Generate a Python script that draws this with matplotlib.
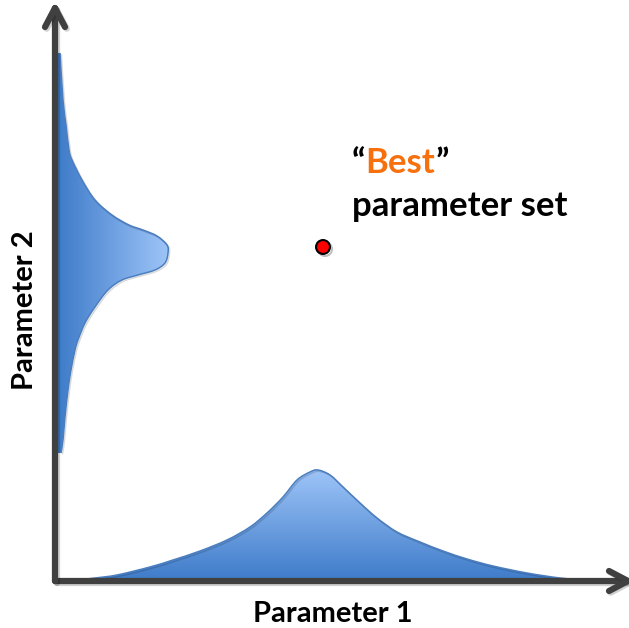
import matplotlib
matplotlib.use("Agg")
import matplotlib.pyplot as plt
import matplotlib.patheffects as pe
import numpy as np
from matplotlib.colors import LinearSegmentedColormap
from matplotlib.patches import PathPatch
from matplotlib.path import Path

# -- data
# distribution of parameter 1 (bottom)
p1_vals = [14, 40, 62, 95, 118, 145, 172, 195, 212, 228, 242, 255, 263, 275, 288,
           305, 322, 342, 365, 388, 412, 438, 472, 505, 537]
p1_dens = [0, 3, 6, 14, 21, 30, 41, 54, 68, 84, 101, 109, 111, 106, 94,
           78, 63, 49, 39, 30, 22, 15, 8, 3, 0]
# distribution of parameter 2 (left)
p2_vals = [528, 481, 456, 431, 421, 401, 381, 366, 356, 351, 345, 336, 328, 318,
           311, 306, 301, 291, 274, 258, 241, 231, 211, 191, 164, 141, 128]
p2_dens = [3, 6, 9, 12, 15, 25, 38, 55, 72, 86, 100, 110, 111, 108,
           98, 81, 65, 51, 38, 28, 21, 18, 14, 11, 8, 6, 4]
# best parameter set
best_p1 = 268
best_p2 = 334

p1_axis_max = 573
p2_axis_max = 573
p2_base = 2

axis_col = '#404040'
dark_blue = '#3E7BC9'
light_blue = '#9DC4F8'
edge_col = '#4A7EBF'
cmap = LinearSegmentedColormap.from_list('blues', [dark_blue, light_blue])

plt.rcParams['font.family'] = ['Lato', 'DejaVu Sans']


def smooth_path(pts, close_to=None):
    # draws a smooth (bezier) curve through the given points
    pts = np.asarray(pts, float)
    n = len(pts)
    verts = [pts[0]]
    codes = [Path.MOVETO]
    for i in range(n - 1):
        p0 = pts[max(i - 1, 0)]
        p1 = pts[i]
        p2 = pts[i + 1]
        p3 = pts[min(i + 2, n - 1)]
        verts += [p1 + (p2 - p0) / 6, p2 - (p3 - p1) / 6, p2]
        codes += [Path.CURVE4] * 3
    if close_to is not None:
        for v in close_to:
            verts.append(v)
            codes.append(Path.LINETO)
        verts.append(pts[0])
        codes.append(Path.CLOSEPOLY)
    return Path(np.array(verts), codes)


fig = plt.figure(figsize=(6.29, 6.28), dpi=100)
ax = fig.add_axes([0, 0, 1, 1])
ax.set_xlim(-55, 574)
ax.set_ylim(-47, 581)
ax.axis('off')

shadow = [pe.SimpleLineShadow(offset=(1.0, -1.0), alpha=0.15, shadow_color='k'),
          pe.Normal()]

# -- bottom distribution with vertical gradient
x1 = np.array(p1_vals)
y1 = np.array(p1_dens)
pts1 = np.column_stack([x1, y1])
clip1 = PathPatch(smooth_path(pts1, close_to=[(x1[-1], 0), (x1[0], 0)]),
                  facecolor='none', edgecolor='none')
ax.add_patch(clip1)
grad = np.linspace(0, 1, 256).reshape(-1, 1)
im1 = ax.imshow(grad, cmap=cmap, origin='lower', aspect='auto',
                extent=[x1.min(), x1.max(), 0, y1.max()], zorder=2)
im1.set_clip_path(clip1)
ax.add_patch(PathPatch(smooth_path(pts1), facecolor='none', edgecolor=edge_col,
                       lw=1.1, zorder=3, path_effects=shadow))

# -- left distribution with horizontal gradient
x2 = p2_base + np.array(p2_dens)
y2 = np.array(p2_vals)
pts2 = np.column_stack([x2, y2])
clip2 = PathPatch(smooth_path(pts2, close_to=[(p2_base, y2[-1]), (p2_base, y2[0])]),
                  facecolor='none', edgecolor='none')
ax.add_patch(clip2)
grad2 = np.linspace(0, 1, 256).reshape(1, -1)
im2 = ax.imshow(grad2, cmap=cmap, origin='lower', aspect='auto',
                extent=[p2_base, x2.max(), y2.min(), y2.max()], zorder=2)
im2.set_clip_path(clip2)
ax.add_patch(PathPatch(smooth_path(pts2), facecolor='none', edgecolor=edge_col,
                       lw=1.1, zorder=3, path_effects=shadow))

# -- axes arrows
ax_kw = dict(color=axis_col, lw=4.5, solid_capstyle='round',
             solid_joinstyle='round', zorder=4,
             path_effects=[pe.SimpleLineShadow(offset=(1.2, -1.2), alpha=0.18),
                           pe.Normal()])
ax.plot([0, p1_axis_max], [0, 0], **ax_kw)
ax.plot([0, 0], [0, p2_axis_max], **ax_kw)
hl, hw = 19, 10
ax.plot([p1_axis_max - hl, p1_axis_max, p1_axis_max - hl], [hw, 0, -hw], **ax_kw)
ax.plot([-hw, 0, hw], [p2_axis_max - hl, p2_axis_max, p2_axis_max - hl], **ax_kw)

# -- best point
ax.plot(best_p1, best_p2, 'o', ms=10, mfc='#FF0000', mec='black', mew=1.5,
        zorder=5, path_effects=[pe.SimpleLineShadow(offset=(1.5, -1.5), alpha=0.25),
                                pe.Normal()])

# -- labels
lab_kw = dict(fontsize=21, fontweight='bold', color='black')
ax.text(278, -41, 'Parameter 1', ha='center', va='baseline', **lab_kw)
ax.text(-30, 271, 'Parameter 2', ha='center', va='center', rotation=90, **lab_kw)

txt_kw = dict(fontsize=25, fontweight='bold', va='baseline')
t1 = ax.text(297, 408, '\u201c', color='black', **txt_kw)
fig.canvas.draw()
r = fig.canvas.get_renderer()
bb = t1.get_window_extent(r)
t2 = ax.text(ax.transData.inverted().transform((bb.x1, 0))[0], 408, 'Best',
             color='#F7700E', **txt_kw)
fig.canvas.draw()
bb2 = t2.get_window_extent(r)
ax.text(ax.transData.inverted().transform((bb2.x1, 0))[0], 408, '\u201d',
        color='black', **txt_kw)
ax.text(297, 365, 'parameter set', color='black', **txt_kw)

fig.savefig('out.png', dpi=100)
